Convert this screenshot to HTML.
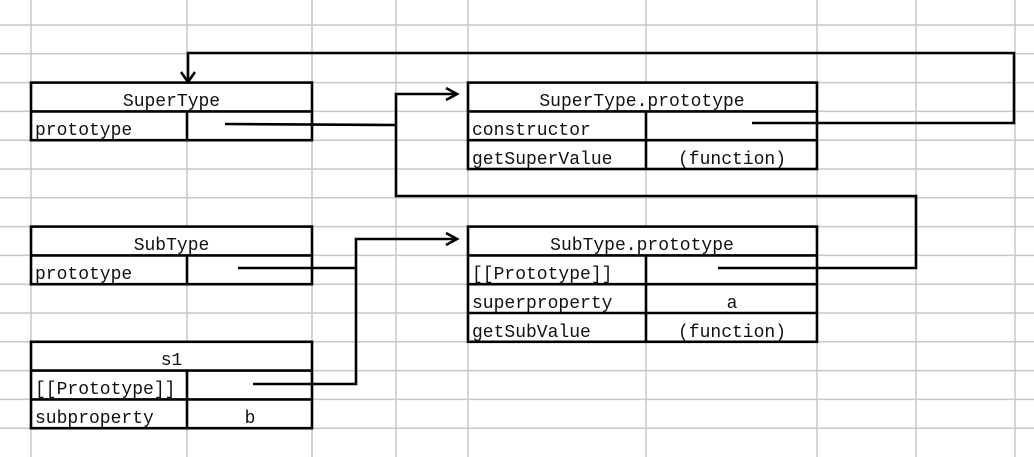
<!DOCTYPE html>
<html><head><style>body{margin:0;background:#fff}svg{display:block}</style></head>
<body>
<svg width="1034" height="457" xmlns="http://www.w3.org/2000/svg" font-family="'Liberation Mono','Noto Serif CJK SC',monospace" font-size="18">
<g stroke="#c8c8c8" stroke-width="1.5">
<line x1="31" y1="0" x2="31" y2="457"/><line x1="187" y1="0" x2="187" y2="457"/><line x1="312" y1="0" x2="312" y2="457"/>
<line x1="396" y1="0" x2="396" y2="457"/><line x1="468" y1="0" x2="468" y2="457"/><line x1="646" y1="0" x2="646" y2="457"/>
<line x1="817" y1="0" x2="817" y2="457"/><line x1="916" y1="0" x2="916" y2="457"/><line x1="1015" y1="0" x2="1015" y2="457"/>
<line x1="0" y1="25" x2="1034" y2="25"/><line x1="0" y1="53.8" x2="1034" y2="53.8"/><line x1="0" y1="82.6" x2="1034" y2="82.6"/>
<line x1="0" y1="111.4" x2="1034" y2="111.4"/><line x1="0" y1="140.2" x2="1034" y2="140.2"/><line x1="0" y1="169" x2="1034" y2="169"/>
<line x1="0" y1="197.8" x2="1034" y2="197.8"/><line x1="0" y1="226.6" x2="1034" y2="226.6"/><line x1="0" y1="255.4" x2="1034" y2="255.4"/>
<line x1="0" y1="284.2" x2="1034" y2="284.2"/><line x1="0" y1="313" x2="1034" y2="313"/><line x1="0" y1="341.8" x2="1034" y2="341.8"/>
<line x1="0" y1="370.6" x2="1034" y2="370.6"/><line x1="0" y1="399.4" x2="1034" y2="399.4"/><line x1="0" y1="428.2" x2="1034" y2="428.2"/>
</g>
<g fill="#fff" stroke="#000" stroke-width="2.6">
<rect x="31" y="82.6" width="281" height="57.6"/>
<rect x="31" y="226.6" width="281" height="57.6"/>
<rect x="31" y="341.8" width="281" height="86.4"/>
<rect x="468" y="82.6" width="349" height="86.4"/>
<rect x="468" y="226.6" width="349" height="115.2"/>
</g>
<g stroke="#000" stroke-width="2.6" fill="none">
<path d="M31 111.4H312M187 111.4V140.2"/>
<path d="M31 255.4H312M187 255.4V284.2"/>
<path d="M31 370.6H312M31 399.4H312M187 370.6V428.2"/>
<path d="M468 111.4H817M468 140.2H817M646 111.4V169"/>
<path d="M468 255.4H817M468 284.2H817M468 313H817M646 255.4V341.8"/>
<path d="M752 123H1014V53H188V81"/><path d="M181 72L188 82L195 72"/>
<path d="M225 124L396 125M396 125V94H457M396 125V196H916V268H718"/><path d="M446 88L457 94L446 100"/>
<path d="M238 268H356M253 384H356V239H457"/><path d="M446 233L457 239L446 245"/>
</g>
<g fill="#111">
<text x="171.5" y="106" text-anchor="middle">SuperType</text>
<text x="35" y="135">prototype</text>
<text x="171.5" y="250" text-anchor="middle">SubType</text>
<text x="35" y="279">prototype</text>
<text x="171.5" y="365" text-anchor="middle">s1</text>
<text x="35" y="394">[[Prototype]]</text>
<text x="35" y="423">subproperty</text>
<text x="250" y="423" text-anchor="middle">b</text>
<text x="642" y="106" text-anchor="middle">SuperType.prototype</text>
<text x="472" y="135">constructor</text>
<text x="472" y="164">getSuperValue</text>
<text x="732" y="164" text-anchor="middle">(function)</text>
<text x="642" y="250" text-anchor="middle">SubType.prototype</text>
<text x="472" y="279">[[Prototype]]</text>
<text x="472" y="308">superproperty</text>
<text x="732" y="308" text-anchor="middle">a</text>
<text x="472" y="337">getSubValue</text>
<text x="732" y="337" text-anchor="middle">(function)</text>
</g>
</svg>
</body></html>
